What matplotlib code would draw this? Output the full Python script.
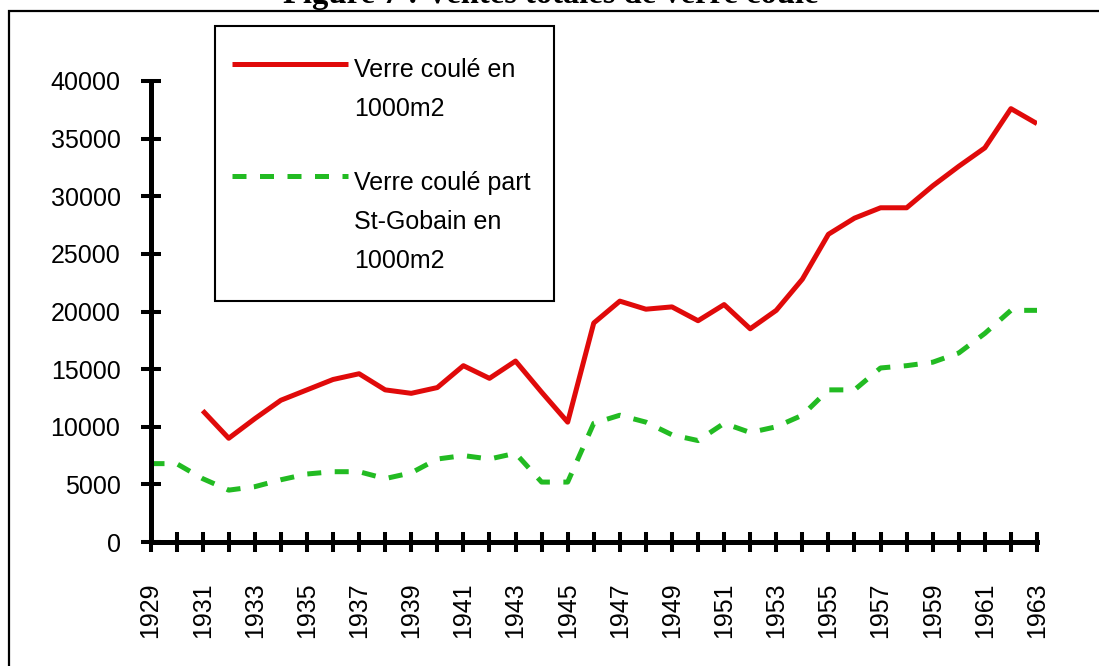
import numpy as np
import matplotlib
matplotlib.use('Agg')
import matplotlib.pyplot as plt
from matplotlib.patches import Rectangle
from matplotlib.legend_handler import HandlerLine2D

plt.rcParams['font.family'] = ['Liberation Sans', 'DejaVu Sans']

# data
years = np.arange(1929, 1964)
verre_coule = [np.nan, np.nan, 11400, 9000, 10700, 12300, 13200, 14100, 14600, 13200,
               12900, 13400, 15300, 14200, 15700, 13000, 10400, 19000, 20900, 20200,
               20400, 19200, 20600, 18500, 20100, 22800, 26700, 28100, 29000, 29000,
               30900, 32600, 34200, 37600, 36300]
part_st_gobain = [6800, 6800, 5500, 4500, 4800, 5400, 5900, 6100, 6100, 5500,
                  6000, 7200, 7500, 7200, 7700, 5200, 5200, 10300, 11000, 10400,
                  9300, 8800, 10300, 9500, 10000, 11000, 13200, 13200, 15100, 15300,
                  15600, 16400, 18100, 20100, 20100]
label_red = 'Verre coulé en\n1000m2'
label_green = 'Verre coulé part\nSt-Gobain en\n1000m2'
y_ticks = [0, 5000, 10000, 15000, 20000, 25000, 30000, 35000, 40000]

W, H = 1099, 666
FS = 18
LINE_DY_PT = 28.5  # distance between text lines in the legend


class FirstLineHandler(HandlerLine2D):
    # put the legend sample next to the first line of a multi-line label
    def create_artists(self, legend, orig_handle, xdescent, ydescent,
                       width, height, fontsize, trans):
        arts = super().create_artists(legend, orig_handle, xdescent, ydescent,
                                      width, height, fontsize, trans)
        n_extra = orig_handle.get_label().count('\n')
        for a in arts:
            a.set_ydata(np.asarray(a.get_ydata()) + n_extra * 0.5 * LINE_DY_PT + 4.8)
        return arts


fig = plt.figure(figsize=(W / 100, H / 100), dpi=100)
ax = fig.add_axes([150.5 / W, 1 - 542 / H, (1037 - 150.5) / W, (542 - 81) / H])

red, = ax.plot(years, verre_coule, color='#E00A0A', lw=3.6,
               solid_capstyle='butt', label=label_red)
green, = ax.plot(years, part_st_gobain, color='#22BB22', lw=3.6,
                 dashes=(2.8, 2.7), dash_capstyle='butt', label=label_green)

ax.set_xlim(1929, 1963)
ax.set_ylim(0, 40000)
ax.set_yticks(y_ticks)
ax.set_yticklabels([str(v) for v in y_ticks])
ax.set_xticks(years)
ax.set_xticklabels([str(y) if (y - 1929) % 2 == 0 else '' for y in years], rotation=90)

for s in ['top', 'right']:
    ax.spines[s].set_visible(False)
for s in ['left', 'bottom']:
    ax.spines[s].set_linewidth(3.6)
ax.tick_params(axis='both', direction='inout', length=14.4, width=2.9, labelsize=FS)
ax.tick_params(axis='x', pad=22)
ax.tick_params(axis='y', pad=14.4)

# legend frame + legend (figure level so it sits over the frame)
fig.add_artist(Rectangle((215 / W, 1 - 301 / H), 339 / W, 275 / H,
                         transform=fig.transFigure, facecolor='white',
                         edgecolor='black', lw=1.5, zorder=4))
leg = fig.legend(handles=[red, green], loc='upper left',
                 bbox_to_anchor=(232 / W, 1 - 58 / H), frameon=False,
                 fontsize=FS, handlelength=4.64, handletextpad=0.24,
                 borderpad=0, borderaxespad=0, labelspacing=1.98,
                 handler_map={red: FirstLineHandler(), green: FirstLineHandler()})
leg.set_zorder(5)
for t in leg.get_texts():
    t.set_linespacing(1.8)

# outer frame of the original figure (only top and left edges visible)
fig.add_artist(Rectangle((9 / W, -0.2), 1.5, 1.2 - 10.5 / H,
                         transform=fig.transFigure, fill=False,
                         edgecolor='black', lw=1.6, zorder=3))

fig.text(551 / W, 1 - 3.5 / H, 'Figure 7 : Ventes totales de verre coulé',
         ha='center', va='baseline', fontsize=23.5, fontweight='bold',
         family=['Liberation Serif', 'DejaVu Serif'])

fig.savefig('out.png', dpi=100)
